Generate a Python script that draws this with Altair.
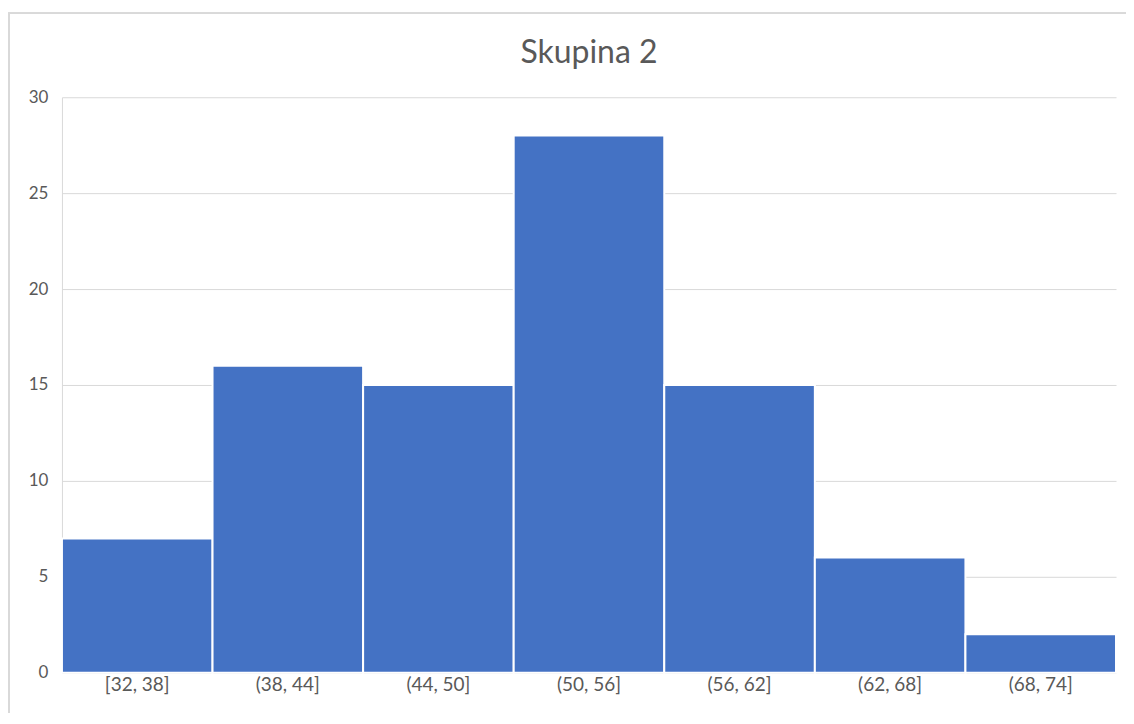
import altair as alt
import pandas as pd

bins = ["[32, 38]", "(38, 44]", "(44, 50]", "(50, 56]", "(56, 62]", "(62, 68]", "(68, 74]"]
counts = [7, 16, 15, 28, 15, 6, 2]

df = pd.DataFrame({"bin": bins, "count": counts})

FONT = "Lato"
GREY = "#595959"

bars = alt.Chart(df).mark_bar(color="#4472C4", stroke="white", strokeWidth=2).encode(
    x=alt.X("bin:N", sort=bins, title=None,
            scale=alt.Scale(paddingInner=0, paddingOuter=0),
            axis=alt.Axis(labelAngle=0, labelFontSize=19, labelColor=GREY, labelFont=FONT,
                          ticks=False, domainColor="#d9d9d9", labelPadding=3)),
    y=alt.Y("count:Q", title=None,
            scale=alt.Scale(domain=[0, 30]),
            axis=alt.Axis(values=[0, 5, 10, 15, 20, 25, 30], labelFontSize=17, labelColor=GREY,
                          labelFont=FONT, ticks=False, domainColor="#d9d9d9",
                          gridColor="#d9d9d9", labelPadding=14)),
)

frame = alt.Chart(df).mark_rect(fill=None, stroke="#d9d9d9", strokeWidth=1.5, clip=False).encode(
    x=alt.value(-53), x2=alt.value(1200), y=alt.value(-84), y2=alt.value(800)
)

chart = alt.layer(frame, bars).properties(
    width=1055, height=576,
    title=alt.TitleParams("Skupina 2", fontSize=32, font=FONT, color=GREY, fontWeight="normal",
                          anchor="middle", offset=-57),
    padding={"left": 54, "top": 89, "right": 10, "bottom": 40},
    autosize=alt.AutoSizeParams(type="none"),
).configure_view(stroke=None)

chart.save("out.html", embed_options={"renderer": "svg", "actions": False})
